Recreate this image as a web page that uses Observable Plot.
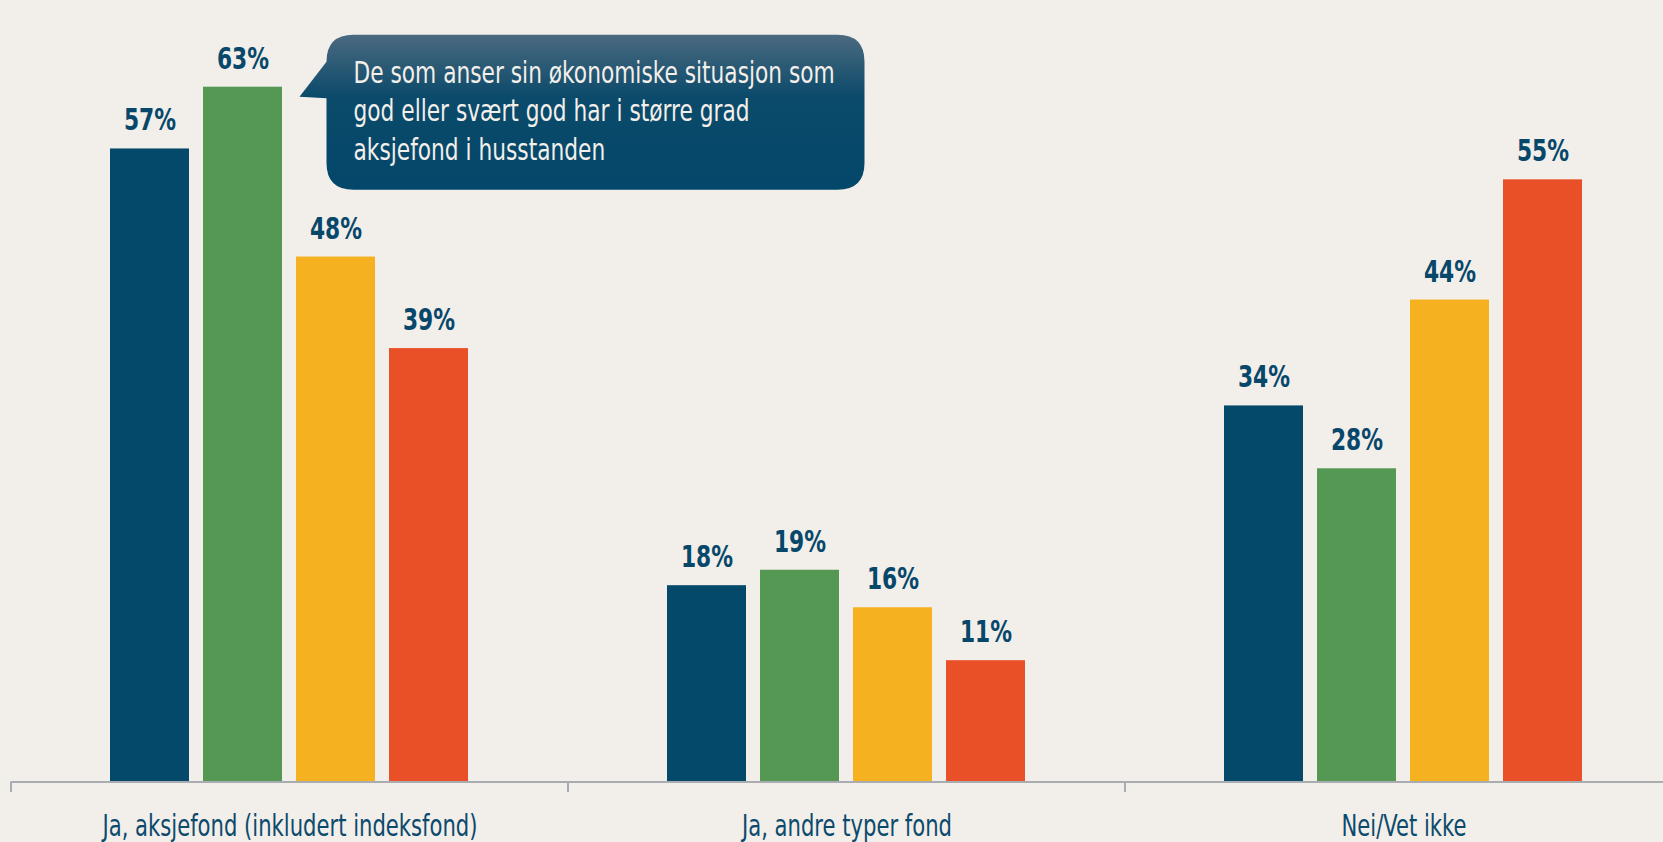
<!DOCTYPE html>
<html><head><meta charset="utf-8">
<script src="https://cdn.jsdelivr.net/npm/d3@7"></script>
<script src="https://cdn.jsdelivr.net/npm/@observablehq/plot@0.6"></script>
<style>
html,body{margin:0;padding:0;background:#f2eeea;overflow:hidden}
#chart{position:relative;width:1663px;height:842px}
</style></head><body><div id="chart"></div>
<script>
const groups = ["Ja, aksjefond (inkludert indeksfond)", "Ja, andre typer fond", "Nei/Vet ikke"];
const series = ["Totalt", "God eller svært god", "Verken god eller dårlig", "Dårlig eller svært dårlig"];
const colors = ["#04486a", "#559854", "#f5b11f", "#ea5028"];
const values = [[57.4, 63.0, 47.6, 39.3], [17.8, 19.2, 15.8, 11.0], [34.1, 28.4, 43.7, 54.6]];
const calloutLines = ["De som anser sin økonomiske situasjon som", "god eller svært god har i større grad", "aksjefond i husstanden"];
const data = groups.flatMap((g, i) => series.map((s, j) => ({group: g, series: s, value: values[i][j]})));

const font = '"DejaVu Sans Condensed","Liberation Sans Narrow","Arial Narrow",sans-serif';
const chart = Plot.plot({
  width: 1663, height: 842, marginTop: 9.5, marginBottom: 60.5, marginLeft: 11, marginRight: -19,
  style: {background: "transparent", fontFamily: font, overflow: "hidden"},
  fx: {domain: groups, paddingInner: 0, paddingOuter: 0, axis: null},
  x: {domain: series, paddingInner: 0.15, paddingOuter: 1.06, axis: null},
  y: {domain: [0, 70], axis: null},
  color: {domain: series, range: colors},
  marks: [
    Plot.barY(data, {fx: "group", x: "series", y: "value", fill: "series"}),
    Plot.ruleY([0], {stroke: "#a9acb0", strokeWidth: 2}),
    Plot.text(data, {fx: "group", x: "series", y: "value", text: d => Math.round(d.value) + "%", dy: -18.5, lineAnchor: "bottom", fontSize: 31, fontWeight: "bold", fill: "#07476a"}),
    Plot.text(groups, {fx: d => d, text: d => d, frameAnchor: "bottom", dy: 53.5, lineAnchor: "bottom", fontSize: 30.5, fill: "#0b4a6c"})
  ]
});
document.getElementById("chart").appendChild(chart);
const svg = d3.select(chart);

// condensed look: squeeze each text horizontally
function condense(nodes, k) {
  nodes.forEach(n => {
    const w = n.getComputedTextLength();
    n.setAttribute("textLength", (w * k).toFixed(1));
    n.setAttribute("lengthAdjust", "spacingAndGlyphs");
  });
}
const allTexts = Array.from(chart.querySelectorAll("text"));
condense(allTexts.filter(t => t.closest("[font-weight]")), 0.78);
condense(allTexts.filter(t => !t.closest("[font-weight]")), 0.77);

// axis ticks at category boundaries, from the fx scale
const fx = chart.scale("fx"), xs = chart.scale("x"), ys = chart.scale("y");
const y0 = ys.apply(0);
const bounds = groups.map(g => fx.apply(g)).concat([fx.apply(groups[groups.length - 1]) + fx.bandwidth]);
svg.append("g").selectAll("line").data(bounds).join("line")
  .attr("x1", d => d).attr("x2", d => d).attr("y1", y0).attr("y2", y0 + 10.5)
  .attr("stroke", "#a9acb0").attr("stroke-width", 2);

// callout anchored to the highest bar
const facetOffset = fx.apply(groups[0]) - fx.range[0];
const tipX = facetOffset + xs.apply(series[1]) + xs.bandwidth + 17.5;
const tipY = ys.apply(values[0][1]) + 10;
const bx = tipX + 27, by = tipY - 62, bw = 538, bh = 155, r = 27;
const defs = svg.append("defs");
const grad = defs.append("linearGradient").attr("id", "cg").attr("x1", 0).attr("y1", 0).attr("x2", 0).attr("y2", 1);
grad.append("stop").attr("offset", "0%").attr("stop-color", "#4b6a80");
grad.append("stop").attr("offset", "40%").attr("stop-color", "#0b4a6a");
grad.append("stop").attr("offset", "100%").attr("stop-color", "#03476a");
const p = d3.path();
p.moveTo(bx + r, by);
p.lineTo(bx + bw - r, by);
p.quadraticCurveTo(bx + bw, by, bx + bw, by + r);
p.lineTo(bx + bw, by + bh - r);
p.quadraticCurveTo(bx + bw, by + bh, bx + bw - r, by + bh);
p.lineTo(bx + r, by + bh);
p.quadraticCurveTo(bx, by + bh, bx, by + bh - r);
p.lineTo(bx, tipY + 1.5);
p.lineTo(tipX, tipY);
p.lineTo(bx, by + r);
p.quadraticCurveTo(bx, by, bx + r, by);
p.closePath();
svg.append("path").attr("d", p.toString()).attr("fill", "url(#cg)");
const ct = svg.append("g").attr("text-anchor", "start").selectAll("text").data(calloutLines).join("text")
  .attr("x", bx + 27).attr("y", (d, i) => by + 48.3 + i * 38.3)
  .attr("fill", "#f3efea").attr("font-size", 30).attr("font-family", font)
  .text(d => d);
condense(ct.nodes(), 0.805);
</script></body></html>
